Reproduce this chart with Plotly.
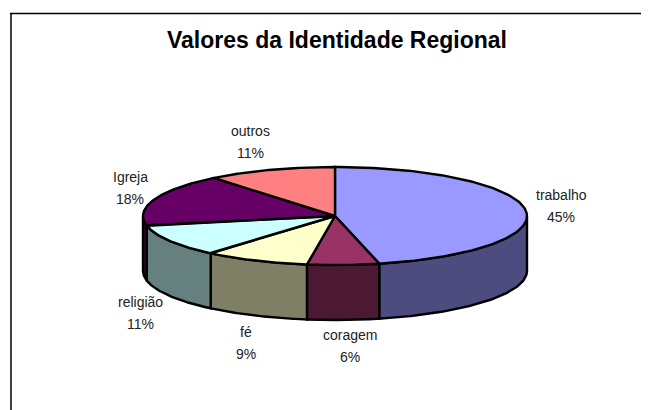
import numpy as np
import plotly.graph_objects as go

categories = ["trabalho", "coragem", "fé", "religião", "Igreja", "outros"]
values = [45, 6, 9, 11, 18, 11]
top_colors = ["#9999FF", "#993366", "#FFFFCC", "#CCFFFF", "#660066", "#FF8080"]
side_colors = ["#4C4C7F", "#4C1933", "#7F7F66", "#667F7F", "#330033", "#7F4040"]

TITLE = "Valores da Identidade Regional"

CX, CY, RX, RY, DEPTH = 335, 216, 192, 49, 55
VIEW_SKEW = np.radians(4.8)  # the 3-D view pulls the front slices slightly round
PAGE_MARGIN = 8  # the browser's default body margin
LINE_W = 2.4
label_pos = {
    "trabalho": (561, 195, 217),
    "coragem": (350, 335, 357),
    "fé": (246, 332, 354),
    "religião": (140, 302, 324),
    "Igreja": (130, 177, 199),
    "outros": (250, 131, 153),
}

def project(t):
    return t + VIEW_SKEW * (1 - np.cos(t)) / 2

def px(t):
    return CX + RX * np.sin(t)

def py(t):
    return CY - RY * np.cos(t)

fig = go.Figure()
frac = np.array(values) / sum(values)
edges = project(np.concatenate([[0], np.cumsum(frac)]) * 2 * np.pi)

# side walls: only the front half (90..270 deg) is visible
for i in range(len(values)):
    a, b = max(edges[i], np.pi / 2), min(edges[i + 1], 3 * np.pi / 2)
    if b <= a:
        continue
    t = np.linspace(a, b, 80)
    xs = np.concatenate([px(t), px(t[::-1])])
    ys = np.concatenate([py(t), py(t[::-1]) + DEPTH])
    fig.add_trace(go.Scatter(
        x=np.append(xs, xs[0]), y=np.append(ys, ys[0]), mode="lines", fill="toself",
        fillcolor=side_colors[i], line=dict(color="black", width=LINE_W),
        name=categories[i], hoverinfo="skip", showlegend=False))

# top faces
for i in range(len(values)):
    t = np.linspace(edges[i], edges[i + 1], 120)
    xs = np.concatenate([[CX], px(t), [CX]])
    ys = np.concatenate([[CY], py(t), [CY]])
    fig.add_trace(go.Scatter(
        x=xs, y=ys, mode="lines", fill="toself",
        fillcolor=top_colors[i], line=dict(color="black", width=LINE_W),
        name=categories[i], showlegend=False))

ann = []
font = dict(family="Liberation Sans, Arial, sans-serif", size=14, color="#222222")
for name, v in zip(categories, values):
    x, y1, y2 = label_pos[name]
    ann.append(dict(x=x, y=y1, text=name, showarrow=False, font=font, xanchor="center", yanchor="middle"))
    ann.append(dict(x=x, y=y2, text=f"{round(100 * v / sum(values))}%", showarrow=False, font=font,
                    xanchor="center", yanchor="middle"))
ann.append(dict(x=336.5, y=40, text=f"<b>{TITLE}</b>", showarrow=False, xanchor="center", yanchor="middle",
                font=dict(family="Liberation Sans, Arial, sans-serif", size=23, color="black")))

fig.update_layout(
    width=649, height=410, margin=dict(l=0, r=0, t=0, b=0),
    paper_bgcolor="white", plot_bgcolor="white", annotations=ann,
    xaxis=dict(range=[PAGE_MARGIN, 649 + PAGE_MARGIN], visible=False, fixedrange=True),
    yaxis=dict(range=[410 + PAGE_MARGIN, PAGE_MARGIN], visible=False, fixedrange=True),
    shapes=[
        dict(type="line", x0=11, x1=11, y0=13, y1=420, line=dict(color="#404040", width=2)),
        dict(type="line", x0=10, x1=660, y0=13.5, y1=13.5, line=dict(color="black", width=1.5)),
    ],
)
fig.write_html("out.html")
